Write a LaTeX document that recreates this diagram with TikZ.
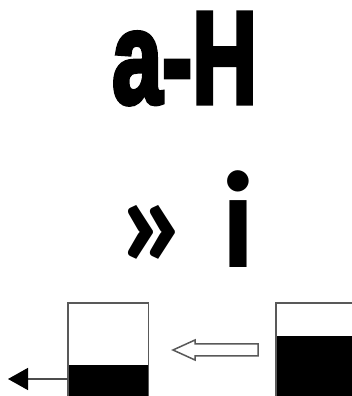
\documentclass[tikz,border=0pt]{standalone}
\usepackage{fontspec}
\setmainfont{Liberation Sans}
\newfontfamily\roundfont{Carlito}
\newfontfamily\heavyfont[FakeBold=4]{Liberation Sans Bold}
\usetikzlibrary{arrows.meta}
\begin{document}
\begin{tikzpicture}[x=1pt,y=1pt,
  boxline/.style={draw=black!65,line width=1.5pt},
  bigtext/.style={inner sep=0pt,anchor=base west}]
\useasboundingbox (0,0) rectangle (352,396);
\clip (0,0) rectangle (352,396);
\fill[white] (0,0) rectangle (352,396);
% title texts
\node[bigtext] (t1) at (112,293) {\resizebox{145pt}{90pt}{\heavyfont a-H}};
\node[bigtext] (t2) at (116,128) {\roundfont\fontsize{138pt}{150pt}\selectfont\bfseries » i};
% left box
\node[rectangle,minimum width=80pt,minimum height=100pt,inner sep=0pt,anchor=north west] (lbox) at (68,93) {};
\fill[black] (68,-8) rectangle (148,31);
\draw[boxline] (lbox.south west) |- (lbox.north east) -- (lbox.south east);
% right box
\node[rectangle,minimum width=85pt,minimum height=100pt,inner sep=0pt,anchor=north west] (rbox) at (276,93) {};
\fill[black] (276,-8) rectangle (361,60);
\draw[boxline] (rbox.south west) |- (rbox.north east);
% hollow arrow
\draw[boxline,fill=white] (173,46) -- (195,56) -- (195,52) -- (258,52) -- (258,40) -- (195,40) -- (195,36) -- cycle;
% small arrow
\coordinate (tipl) at (8,17);
\draw[black!70,line width=1.5pt,-{Triangle[length=20pt,width=22pt,black]}] (lbox.west |- tipl) -- (tipl);
\end{tikzpicture}
\end{document}
